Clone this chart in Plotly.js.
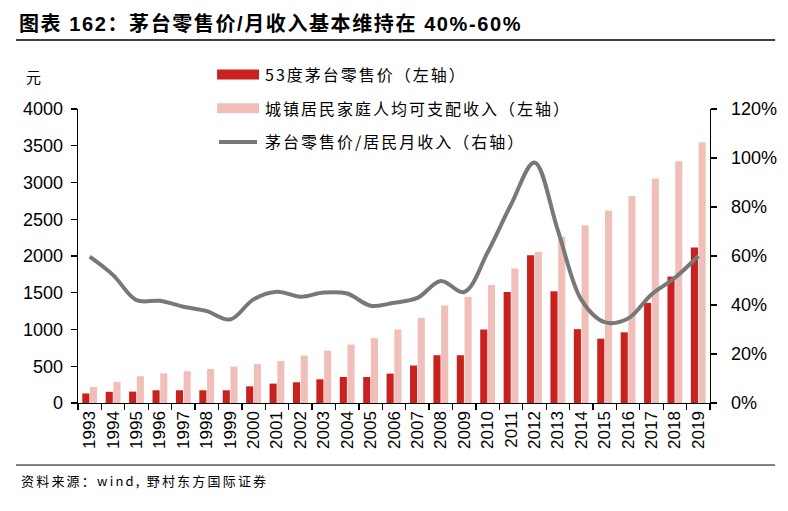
<!DOCTYPE html>
<html>
<head>
<meta charset="utf-8" />
<script src="https://cdn.plot.ly/plotly-3.0.1.min.js"></script>
<style>
  html, body { margin: 0; padding: 0; background: #fff; }
  #chart { width: 788px; height: 511px; }
  .legendtext { letter-spacing: 2px; }
  .gtitle { letter-spacing: 1.6px; }
  .annotation-text { letter-spacing: 2.2px; }
</style>
</head>
<body>
<div id="chart"></div>
<script>
// Data

const years = [
  "1993", "1994", "1995", "1996", "1997", "1998", "1999", "2000", "2001",
  "2002", "2003", "2004", "2005", "2006", "2007", "2008", "2009", "2010",
  "2011", "2012", "2013", "2014", "2015", "2016", "2017", "2018", "2019",
];

// 53度茅台零售价 (元)
const moutaiPrice = [
  130, 152, 155, 173, 173, 173, 173, 227, 264, 282, 322, 354, 354, 400,
  510, 650, 650, 1000, 1510, 2010, 1520, 1005, 875, 962, 1362, 1720, 2115,
];

// 城镇居民家庭人均可支配收入 (元)
const urbanIncome = [
  218, 288, 364, 404, 432, 463, 495, 532, 573, 645, 713, 795, 882, 1000,
  1159, 1327, 1445, 1604, 1831, 2059, 2263, 2418, 2620, 2818, 3054, 3290, 3548,
];

// 茅台零售价/居民月收入
const priceToIncome = [
  0.597, 0.522, 0.42, 0.417, 0.393, 0.375, 0.341, 0.423, 0.454, 0.434,
  0.451, 0.447, 0.397, 0.409, 0.429, 0.498, 0.453, 0.615, 0.81, 0.982,
  0.705, 0.422, 0.33, 0.345, 0.443, 0.511, 0.60,
];

const seriesNames = [
  "53度茅台零售价（左轴）",
  "城镇居民家庭人均可支配收入（左轴）",
  "茅台零售价/居民月收入（右轴）",
];

// Styles

const RED = "#C9211E";
const PINK = "#F0BFBA";
const GREY = "#787878";
const TICK_FONT = { family: "Liberation Sans, Arial, sans-serif", size: 18, color: "#000" };
const CJK = "Noto Sans CJK SC, sans-serif";

// Chart

const data = [
  {
    x: years,
    y: moutaiPrice,
    type: "bar",
    name: seriesNames[0],
    legendgroup: "a",
    marker: { color: RED },
    hoverinfo: "skip",
  },
  {
    x: years,
    y: urbanIncome,
    type: "bar",
    name: seriesNames[1],
    legendgroup: "b",
    marker: { color: PINK },
    hoverinfo: "skip",
  },
  {
    x: years,
    y: priceToIncome,
    type: "scatter",
    mode: "lines",
    name: seriesNames[2],
    legendgroup: "c",
    yaxis: "y2",
    line: { color: GREY, width: 4, shape: "spline", smoothing: 1 },
    hoverinfo: "skip",
  },
];

const axisLine = {
  showline: true,
  linecolor: "#000",
  linewidth: 1.3,
  ticks: "outside",
  ticklen: 6,
  tickwidth: 1.3,
  tickcolor: "#000",
  showgrid: false,
  zeroline: false,
};

const layout = {
  width: 788,
  height: 511,
  margin: { l: 78, r: 78, t: 109, b: 108 },
  paper_bgcolor: "#fff",
  plot_bgcolor: "#fff",
  barmode: "group",
  bargap: 0.34,
  bargroupgap: 0.08,
  showlegend: true,
  legend: {
    x: 0.22,
    xanchor: "left",
    y: 1.175,
    yanchor: "top",
    bgcolor: "rgba(0,0,0,0)",
    itemwidth: 38,
    tracegroupgap: 10,
    traceorder: "grouped",
    font: { family: CJK, size: 16, color: "#000" },
  },
  title: {
    text: "<b>图表 162：茅台零售价/月收入基本维持在 40%-60%</b>",
    x: 0.024,
    xref: "container",
    xanchor: "left",
    y: 1 - 24 / 511,
    yref: "container",
    yanchor: "middle",
    font: { family: "Liberation Sans, " + CJK, size: 20, color: "#000" },
  },
  xaxis: {
    ...axisLine,
    type: "category",
    tickson: "boundaries",
    tickangle: -90,
    tickfont: { ...TICK_FONT, size: 17 },
    fixedrange: true,
  },
  yaxis: {
    ...axisLine,
    range: [0, 4000],
    dtick: 500,
    tickfont: TICK_FONT,
    ticklabelstandoff: 4,
    fixedrange: true,
  },
  yaxis2: {
    ...axisLine,
    overlaying: "y",
    side: "right",
    range: [0, 1.2],
    dtick: 0.2,
    tickformat: ".0%",
    tickfont: TICK_FONT,
    ticklabelstandoff: 10,
    fixedrange: true,
  },
  shapes: [
    // rule under the heading
    {
      type: "line", xref: "paper", yref: "paper",
      x0: -0.098, x1: 1.103, y0: 1.2347, y1: 1.2347,
      line: { color: "#000", width: 1.3 },
    },
    // rule above the source note
    {
      type: "line", xref: "paper", yref: "paper",
      x0: -0.098, x1: 1.103, y0: -0.211, y1: -0.211,
      line: { color: "#000", width: 1 },
    },
  ],
  annotations: [
    {
      text: "元",
      xref: "paper", yref: "paper",
      x: -0.0685, y: 1.112,
      xanchor: "center", yanchor: "middle",
      showarrow: false,
      font: { family: CJK, size: 15, color: "#000" },
    },
    {
      text: "资料来源：wind, 野村东方国际证券",
      xref: "paper", yref: "paper",
      x: -0.094, y: -0.263,
      xanchor: "left", yanchor: "middle",
      showarrow: false,
      font: { family: CJK, size: 13, color: "#000" },
    },
  ],
};

// Make the legend swatches long and flat, like the original
const widenLegendSwatches = function (gd) {
  const items = gd.querySelectorAll(".legend .traces");
  items.forEach((item, i) => {
    if (i < 2) {
      item.querySelectorAll(".legendpoints path").forEach((p) => {
        p.removeAttribute("transform");
        p.setAttribute("d", "M0,-5h42v10h-42Z");
      });
    } else {
      item.querySelectorAll(".legendlines path").forEach((p) => {
        p.setAttribute("d", "M2,0h38");
      });
    }
  });
};

Plotly.newPlot("chart", data, layout, {
  displayModeBar: false,
  staticPlot: true,
}).then((gd) => {
  widenLegendSwatches(gd);
  gd.on("plotly_afterplot", () => widenLegendSwatches(gd));
});
</script>
</body>
</html>
